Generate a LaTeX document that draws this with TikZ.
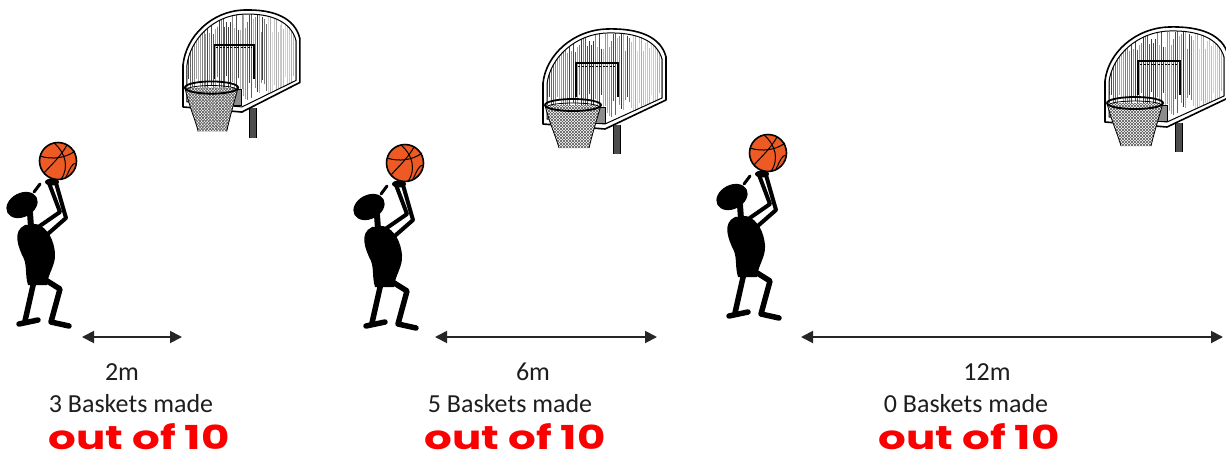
\documentclass[tikz,border=0pt]{standalone}
\usepackage{fontspec}
\setmainfont{Carlito}
\newfontfamily\handfont{Poppins}
\usetikzlibrary{arrows.meta}

\definecolor{ballorange}{RGB}{238,90,36}
\definecolor{marker}{RGB}{250,0,0}
\definecolor{txt}{RGB}{30,30,30}

\tikzset{
  lbl/.style={font=\fontsize{26}{28}\selectfont, text=txt, inner sep=0pt, anchor=base},
  tally/.style={font=\handfont\bfseries\fontsize{33}{33}\selectfont, text=marker,
    inner sep=0pt, text depth=0pt, anchor=base, xscale=1.32},
  distarrow/.style={{Triangle[length=12pt,width=12pt]}-{Triangle[length=12pt,width=12pt]}, line width=1.9pt, black!85},
  limb/.style={line width=5.5pt, line cap=round, line join=round},
  % backboard, rim and net; origin at the top-left of the board
  hoop/.pic={
    % pole
    \fill[black!70] (70,98) rectangle (77,127);
    \draw[line width=0.9] (70,98) -- (70,127) (77,98) -- (77,127);
    % board frame
    \fill[white] (0,97) -- (0,56) .. controls (3,28) and (30,3) .. (64,2)
      .. controls (96,1) and (118,10) .. (123,30) -- (123,73) -- (62,102) -- cycle;
    \begin{scope}
      \clip (4,92) -- (4,57) .. controls (7,31) and (32,7) .. (64,6)
        .. controls (94,5) and (114,14) .. (119,32) -- (119,71) -- (62,97) -- cycle;
      \pgfmathsetseed{7}
      \foreach \i in {0,...,57} {
        \pgfmathsetmacro\ya{4+rnd*22}
        \pgfmathsetmacro\yb{66+rnd*32}
        \pgfmathtruncatemacro\g{30+rnd*50}
        \draw[black!\g, line width=0.75] ({4+2*\i},\ya) -- ({4+2*\i},\yb);
      }
      \fill[white, opacity=0.55] (88,5) rectangle (120,100);
    \end{scope}
    \draw[line width=1.6, line join=round] (0,97) -- (0,56) .. controls (3,28) and (30,3) .. (64,2)
      .. controls (96,1) and (118,10) .. (123,30) -- (123,73) -- (62,102) -- cycle;
    \draw[line width=1.0, line join=round] (4,92) -- (4,57) .. controls (7,31) and (32,7) .. (64,6)
      .. controls (94,5) and (114,14) .. (119,32) -- (119,71) -- (62,97) -- cycle;
    % shooting square
    \draw[line width=1.7] (33,70) -- (33,36) -- (75,36) -- (75,70);
    \draw[line width=0.8, dash pattern=on 2pt off 1.5pt] (35,39) -- (73,39);
    % bracket
    \fill[black!45] (49,80) rectangle (62,96);
    \draw[line width=0.9] (49,80) rectangle (62,96);
    % net
    \fill[white] (2,78) .. controls (6,95) and (13,110) .. (16,121) -- (46,121)
      .. controls (49,108) and (54,92) .. (58,78) -- cycle;
    \begin{scope}
      \clip (2,78) .. controls (6,95) and (13,110) .. (16,121) -- (46,121)
        .. controls (49,108) and (54,92) .. (58,78) -- cycle;
      \foreach \k in {-60,-57,...,60} {
        \draw[black!65, line width=0.6] ({\k},72) -- ({\k+50},122);
        \draw[black!65, line width=0.6] ({\k+60},72) -- ({\k+10},122);
      }
    \end{scope}
    \draw[line width=0.8] (2,78) .. controls (6,95) and (13,110) .. (16,121)
      (58,78) .. controls (54,92) and (49,108) .. (46,121);
    % rim
    \draw[line width=1.8] (30,78) ellipse [x radius=28, y radius=6];
    \draw[line width=0.8] (30,80) ellipse [x radius=26, y radius=4];
  },
  % player holding the ball overhead; origin at the centre of the ball
  shooter/.pic={
    % legs
    \draw[limb] (-14,118) -- (2,128) -- (-7,161) -- (11,165);
    \draw[limb] (-24,120) -- (-33,160);
    \draw[limb] (-39,163) -- (-20,159);
    % torso
    \fill (-33,64) .. controls (-46,70) and (-40,86) .. (-34,98)
      .. controls (-31,106) and (-33,114) .. (-30,124) -- (-11,124)
      .. controls (-10,112) and (-2,104) .. (-3,92)
      .. controls (-4,80) and (-10,66) .. (-22,63) -- cycle;
    % neck and head
    \draw[line width=6pt, line cap=round] (-28,52) -- (-27,66);
    \fill[rotate around={28:(-36,44)}] (-36,44) ellipse [x radius=16.5, y radius=12];
    \draw[line width=3pt, line cap=round] (-24,31) -- (-18,23);
    % arms
    \draw[line width=4pt, line cap=round, line join=round] (-24,69) -- (2,51) -- (-9,22);
    \draw[line width=4pt, line cap=round, line join=round] (-16,78) -- (8,57) -- (-2,22);
    % ball
    \fill[ballorange] (0,0) circle [radius=18.5];
    \draw[line width=1.0] (-18,-5) .. controls (-6,-1) and (8,-3) .. (17,-10);
    \draw[line width=1.0] (-4,-18) .. controls (8,-8) and (11,7) .. (3,18.5);
    \draw[line width=1.0] (-14,12) .. controls (-6,3) and (3,-5) .. (9,-16);
    \draw[line width=1.0] (8,16) .. controls (12,8) and (14,2) .. (18.3,2);
    \draw[line width=1.6] (0,0) circle [radius=18.5];
    % hands
    \fill (-6,21) ellipse [x radius=7, y radius=3.5];
  }
}

\begin{document}
\begin{tikzpicture}[x=1pt, y=-1pt]
  \useasboundingbox (0,0) rectangle (1226,459);
  \fill[white] (0,0) rectangle (1226,459);

  % hoops
  \pic[xscale=0.95, yscale=1.02] at (183,8) {hoop};
  \pic at (543,27) {hoop};
  \pic at (1105,25) {hoop};

  % players
  \pic at (58,161) {shooter};
  \pic at (405,163) {shooter};
  \pic at (768,153) {shooter};

  % distance markers
  \coordinate (s1) at (82,337);   \coordinate (e1) at (182,337);
  \coordinate (s2) at (435,337);  \coordinate (e2) at (657,337);
  \coordinate (s3) at (801,337);  \coordinate (e3) at (1223,337);
  \draw[distarrow] (s1) -- (e1);
  \draw[distarrow] (s2) -- (e2);
  \draw[distarrow] (s3) -- (e3);

  % labels
  \node[lbl] (d1) at (122,380) {2m};
  \node[lbl] (d2) at (533,380) {6m};
  \node[lbl] (d3) at (987,380) {12m};
  \node[lbl] (m1) at (131,412) {3 Baskets made};
  \node[lbl] (m2) at (510,412) {5 Baskets made};
  \node[lbl] (m3) at (966,412) {0 Baskets made};
  \node[tally] (t1) at (139,449) {out of 10};
  \node[tally] (t2) at (515,449) {out of 10};
  \node[tally] (t3) at (969,449) {out of 10};
\end{tikzpicture}
\end{document}
